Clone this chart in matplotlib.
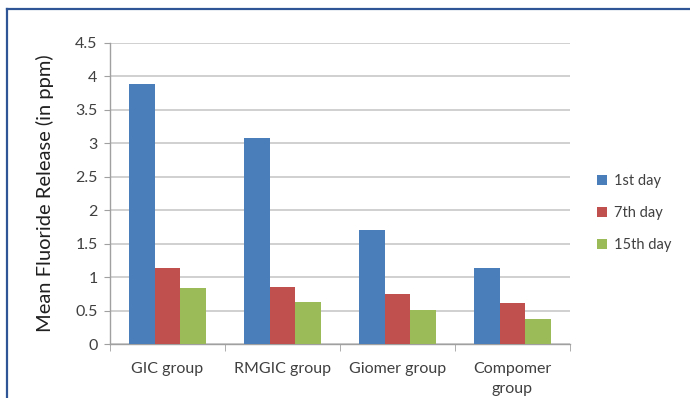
import numpy as np
import matplotlib.pyplot as plt
from matplotlib.lines import Line2D

plt.rcParams['font.family'] = ['Lato', 'DejaVu Sans']

groups = ['GIC group', 'RMGIC group', 'Giomer group', 'Compomer\ngroup']
days = ['1st day', '7th day', '15th day']
day1 = [3.88, 3.08, 1.70, 1.13]
day7 = [1.13, 0.85, 0.75, 0.61]
day15 = [0.84, 0.63, 0.51, 0.38]
colors = ['#4a7ebb', '#c0504d', '#9bbb59']

fig = plt.figure(figsize=(6.9, 3.98), dpi=100)
ax = fig.add_axes([110 / 690, 1 - 344 / 398, 460 / 690, 301 / 398])

x = np.arange(len(groups))
w = 0.667 / 3
for i, (vals, lab, c) in enumerate(zip([day1, day7, day15], days, colors)):
    ax.bar(x + (i - 1) * w, vals, w, color=c, label=lab, zorder=3)

ax.set_xlim(-0.5, len(groups) - 0.5)
ax.set_ylim(0, 4.5)
ax.set_yticks(np.arange(0, 4.51, 0.5))
ax.set_yticklabels(['0', '0.5', '1', '1.5', '2', '2.5', '3', '3.5', '4', '4.5'])
ax.yaxis.grid(True, color='#c8c8c8', linewidth=1.2, zorder=0)
ax.tick_params(axis='y', length=4, color='#a0a0a0', labelsize=11.5, labelcolor='#404040', pad=5)

# category labels centred under each group, tick marks between groups
ax.set_xticks(x)
ax.set_xticklabels(groups, fontsize=11.5, color='#404040', linespacing=1.5, va='top')
ax.tick_params(axis='x', length=0, pad=13)
ax.set_xticks(np.arange(-0.5, len(groups)), minor=True)
ax.tick_params(axis='x', which='minor', length=5, color='#a0a0a0')

for s in ['top', 'right']:
    ax.spines[s].set_visible(False)
for s in ['left', 'bottom']:
    ax.spines[s].set_color('#a0a0a0')
    ax.spines[s].set_linewidth(1.0)

ax.set_ylabel('Mean Fluoride Release (in ppm)', fontsize=14.5, color='#202020', labelpad=15)

ax.legend(loc='center left', bbox_to_anchor=(1.03, 0.435), frameon=False,
          fontsize=10.5, handlelength=0.7, handleheight=0.7, labelspacing=1.25,
          handletextpad=0.5, labelcolor='#404040')

# outer frame on left and top
fig.add_artist(Line2D([7 / 690, 7 / 690], [0, 1 - 9 / 398], color='#2f5597', linewidth=1.6))
fig.add_artist(Line2D([7 / 690, 1], [1 - 9 / 398, 1 - 9 / 398], color='#2f5597', linewidth=1.6))

fig.savefig('out.png', dpi=100)
